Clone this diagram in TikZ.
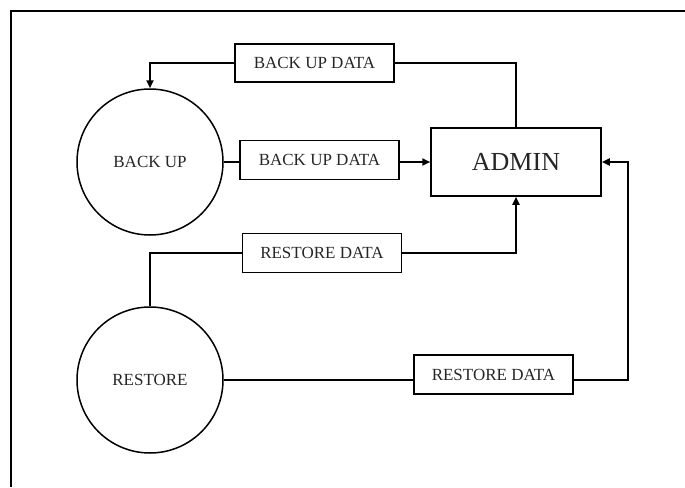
\documentclass[tikz,border=0pt]{standalone}
\usepackage{fontspec}
\setmainfont{Liberation Serif}
\usetikzlibrary{arrows.meta}
\tikzset{
  proc/.style={circle, draw, line width=1.5pt, minimum size=146pt, inner sep=0pt,
    font=\fontsize{17}{20}\selectfont, text=black!85},
  flow/.style={rectangle, draw, line width=1.5pt, minimum width=159pt, minimum height=39pt,
    inner sep=0pt, font=\fontsize{17}{20}\selectfont, text=black!85},
  entity/.style={rectangle, draw, line width=1.5pt, minimum width=170pt, minimum height=68pt,
    inner sep=0pt, font=\fontsize{26}{30}\selectfont, text=black!85},
  link/.style={line width=2pt},
  arr/.style={link, -{Triangle[length=8pt,width=7pt]}}
}
\begin{document}
\begin{tikzpicture}[x=1pt,y=-1pt]
  \useasboundingbox (0,0) rectangle (685,487);
  % page frame (top and left edges)
  \draw[line width=1.5pt] (11,487) -- (11,11) -- (685,11);

  % processes and entity
  \node[proc] (bk) at (150,162) {BACK UP};
  \node[proc] (rs) at (150,380) {RESTORE};
  \node[entity] (admin) at (516,162) {ADMIN};

  % data flow labels
  \node[flow, minimum height=38pt] (d1) at (314.5,63) {BACK UP DATA};
  \node[flow] (d2) at (319.5,160) {BACK UP DATA};
  \node[flow] (d3) at (322,253) {RESTORE DATA};
  \node[flow] (d4) at (493.5,374.5) {RESTORE DATA};
  \coordinate (rc) at (628,380);

  % admin -> back up
  \draw[link] (d1.east) -| (admin.north);
  \draw[arr] (d1.west) -| (bk.north);
  % back up -> admin
  \draw[link] (bk.east) -- (bk.east -| d2.west);
  \draw[arr] (d2.east |- bk.east) -- (admin.west |- bk.east);
  % restore -> admin (upper path)
  \draw[link] (rs.north) |- (d3.west);
  \draw[arr] (d3.east) -| (admin.south);
  % restore -> admin (lower path)
  \draw[link] (rs.east) -- (rs.east -| d4.west);
  \draw[arr] (d4.east |- rs.east) -- (rc) |- (admin.east);
\end{tikzpicture}
\end{document}
